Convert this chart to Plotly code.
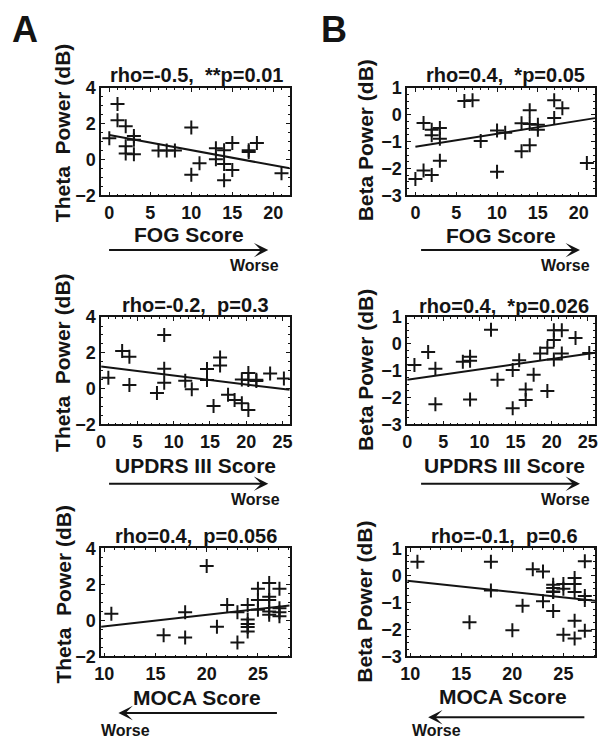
import plotly.graph_objects as go

# ---------------- data ----------------
fog_score = [0, 1, 1, 2, 2, 2, 3, 3, 3, 6, 7, 8, 10, 10, 11, 13, 13, 14, 14, 14, 15, 15, 17, 17, 18, 21]
theta_vs_fog = [1.19, 3.10, 2.20, 1.86, 0.74, 0.34, 1.32, 1.10, 0.29, 0.50, 0.50, 0.50, 1.79, -0.85,
                -0.20, 0.63, 0.02, 0.52, -0.25, -1.16, 0.92, -0.58, 0.52, 0.42, 0.92, -0.76]
beta_vs_fog = [-2.39, -0.31, -2.07, -0.56, -0.76, -2.24, -0.49, -0.89, -1.71, 0.51, 0.54, -0.98, -0.59,
               -2.12, -0.67, -0.32, -1.36, 0.17, -0.34, -1.13, -0.37, -0.56, 0.54, -0.12, 0.24, -1.79]

updrs_score = [1.0, 2.9, 3.9, 3.9, 7.7, 8.7, 8.7, 8.7, 11.6, 12.5, 14.6, 14.6, 15.5, 16.4, 16.4, 17.5,
               18.4, 19.4, 19.4, 20.3, 20.3, 20.3, 21.4, 21.4, 23.3, 25.2]
theta_vs_updrs = [0.60, 2.10, 1.78, 0.20, -0.25, 3.00, 1.11, 0.33, 0.44, -0.03, 1.09, 0.48, -0.97, 1.74,
                  1.29, -0.34, -0.64, -0.82, 0.51, -1.20, 0.87, 0.48, 0.42, 0.50, 0.84, 0.57]
beta_vs_updrs = [-0.79, -0.30, -0.93, -2.25, -0.67, -0.48, -0.63, -2.07, 0.53, -1.34, -0.97, -2.40, -0.61,
                 -1.70, -2.09, -1.15, -0.36, -0.14, -1.76, 0.51, 0.15, -0.58, 0.51, -0.36, 0.22, -0.34]

moca_score = [10.7, 15.8, 17.9, 17.9, 20.0, 21.0, 22.0, 23.0, 23.0, 24.0, 24.0, 24.0, 24.0, 24.0, 25.0,
              25.0, 25.0, 26.1, 26.1, 26.1, 26.1, 26.1, 27.1, 27.1, 27.1, 27.1]
theta_vs_moca = [0.36, -0.83, 0.45, -0.96, 3.01, -0.36, 0.85, 0.45, -1.23, 0.85, 0.04, -0.20, -0.38, -0.63,
                 1.75, 1.12, 0.58, 2.07, 1.30, 1.12, 0.49, 0.31, 1.75, 0.67, 0.45, 0.22]
beta_vs_moca = [0.50, -1.74, 0.50, -0.56, -2.04, -1.13, 0.22, 0.14, -0.96, -0.35, -0.47, -0.60, -0.62,
                -1.32, -0.32, -0.50, -2.20, -0.10, -0.32, -0.62, -1.68, -2.34, 0.52, -0.77, -0.92, -2.05]

# regression lines (intercept, slope)
fit_intercept = [1.37, -1.19, 1.24, -1.34, -0.982, 0.183]
fit_slope = [-0.0845, 0.0484, -0.0504, 0.039, 0.0643, -0.0401]
fit_from = [0, 0, 0, 0, 9.7, 9.7]
fit_to = [22, 22, 26, 26, 28.1, 28.1]

panel_titles = ["rho=-0.5,\u00a0 **p=0.01", "rho=0.4,\u00a0 *p=0.05",
                "rho=-0.2,\u00a0 p=0.3", "rho=0.4,\u00a0 *p=0.026",
                "rho=0.4,\u00a0 p=0.056", "rho=-0.1,\u00a0 p=0.6"]
x_labels = ["FOG Score", "FOG Score", "UPDRS III Score", "UPDRS III Score", "MOCA Score", "MOCA Score"]
y_labels = ["Theta\u00a0 Power (dB)", "Beta Power (dB)"] * 3
panel_letters = ["A", "B"]
arrow_text = "Worse"

xs = [fog_score, fog_score, updrs_score, updrs_score, moca_score, moca_score]
ys = [theta_vs_fog, beta_vs_fog, theta_vs_updrs, beta_vs_updrs, theta_vs_moca, beta_vs_moca]

# ---------------- layout constants ----------------
W, H = 600, 750
FONT = "Liberation Sans, Arial, Helvetica, sans-serif"
INK = "#141414"
col_px = [(95.7, 287.5), (407.0, 598.0)]
row_px = [(80.0, 190.5), (315.5, 425.7), (553.0, 664.0)]
x_ranges = [[-1, 22], [-1, 22], [0, 26], [0, 26], [9.7, 28.1], [9.7, 28.1]]
y_ranges = [[-2, 4], [-3, 1]] * 3
y_dticks = [2, 1] * 3
y_minor = [0.5, 0.25] * 3


def px(x):
    return x / W


def py(y):
    return 1 - y / H


fig = go.Figure()
layout = dict(width=W, height=H, margin=dict(l=0, r=0, t=0, b=0),
              paper_bgcolor="white", plot_bgcolor="white", showlegend=False)
annotations = []

for i in range(6):
    r, c = divmod(i, 2)
    xn = "" if i == 0 else str(i + 1)
    fig.add_trace(go.Scatter(
        x=xs[i], y=ys[i], mode="markers", xaxis="x" + xn, yaxis="y" + xn,
        marker=dict(symbol="cross-thin", size=10, color=INK, line=dict(width=2, color=INK)),
        hoverinfo="skip"))
    lx = [fit_from[i], fit_to[i]]
    ly = [fit_intercept[i] + fit_slope[i] * v for v in lx]
    fig.add_trace(go.Scatter(
        x=lx, y=ly, mode="lines", xaxis="x" + xn, yaxis="y" + xn,
        line=dict(color=INK, width=2), hoverinfo="skip"))

    common = dict(showline=True, linecolor=INK, linewidth=1.5, mirror="allticks",
                  ticks="inside", ticklen=4, tickwidth=1, tickcolor=INK,
                  showgrid=False, zeroline=False, fixedrange=True,
                  tickfont=dict(family=FONT, size=18, color=INK, weight="bold"))
    x0, x1 = col_px[c]
    y0, y1 = row_px[r]
    layout["xaxis" + xn] = dict(common, domain=[px(x0), px(x1)], range=x_ranges[i],
                                anchor="y" + xn, tick0=0, dtick=5,
                                minor=dict(ticks="inside", ticklen=2, tickcolor=INK, dtick=1))
    layout["yaxis" + xn] = dict(common, domain=[py(y1), py(y0)], range=y_ranges[i],
                                anchor="x" + xn, tick0=0, dtick=y_dticks[i],
                                minor=dict(ticks="inside", ticklen=2, tickcolor=INK, dtick=y_minor[i]))

# text positions (pixels)
title_pos = [(192.5, 66.7), (507, 66.7), (192, 302.7), (505.5, 304), (192.3, 540.7), (506, 540)]
xlab_pos = [(185.5, 230.7), (502, 231.7), (191.3, 468.3), (505.5, 468.3), (193, 706), (504, 705)]
ylab_pos = [(56.5, 126), (364, 134), (56.5, 362), (364, 370), (56.5, 600), (364, 608)]
arrow_pos = [(105, 265.7, 246.7), (422.3, 582.7, 246.7), (105, 265.7, 486.7), (422.3, 582.7, 486.7),
             (273.3, 113.3, 722.3), (586, 428.3, 726.7)]  # tail x, head x, y
worse_pos = [(252.2, 263), (567.5, 262.7), (252.7, 502.7), (568, 502.7), (120.3, 740), (437, 740.3)]
letter_pos = [(18, 20), (333, 20)]

bold = lambda s: dict(family=FONT, size=s, color=INK, weight="bold")

for i in range(6):
    tx, ty = title_pos[i]
    annotations.append(dict(text=panel_titles[i], x=px(tx), y=py(ty), xref="paper", yref="paper",
                            showarrow=False, xanchor="center", yanchor="middle", font=bold(20)))
    lx_, ly_ = xlab_pos[i]
    annotations.append(dict(text=x_labels[i], x=px(lx_), y=py(ly_), xref="paper", yref="paper",
                            showarrow=False, xanchor="center", yanchor="middle", font=bold(21)))
    yx, yy = ylab_pos[i]
    annotations.append(dict(text=y_labels[i], x=px(yx), y=py(yy), xref="paper", yref="paper",
                            showarrow=False, xanchor="center", yanchor="middle", textangle=-90,
                            font=bold(21)))
    t, h, ay = arrow_pos[i]
    annotations.append(dict(text="", x=px(h), y=py(ay), xref="paper", yref="paper",
                            ax=t - h, ay=0, axref="pixel", ayref="pixel", showarrow=True,
                            arrowhead=3, arrowsize=1.2, arrowwidth=2, arrowcolor=INK, standoff=0))
    wx, wy = worse_pos[i]
    annotations.append(dict(text=arrow_text, x=px(wx), y=py(wy), xref="paper", yref="paper",
                            showarrow=False, xanchor="center", yanchor="middle", font=bold(16)))

for k in range(2):
    lx_, ly_ = letter_pos[k]
    annotations.append(dict(text=panel_letters[k], x=px(lx_), y=py(ly_), xref="paper", yref="paper",
                            showarrow=False, xanchor="center", yanchor="middle", font=bold(36)))

layout["annotations"] = annotations
fig.update_layout(**layout)
fig.write_html("out.html", config={"displayModeBar": False},
               post_script="document.body.style.margin='0';document.body.style.overflow='hidden';")
